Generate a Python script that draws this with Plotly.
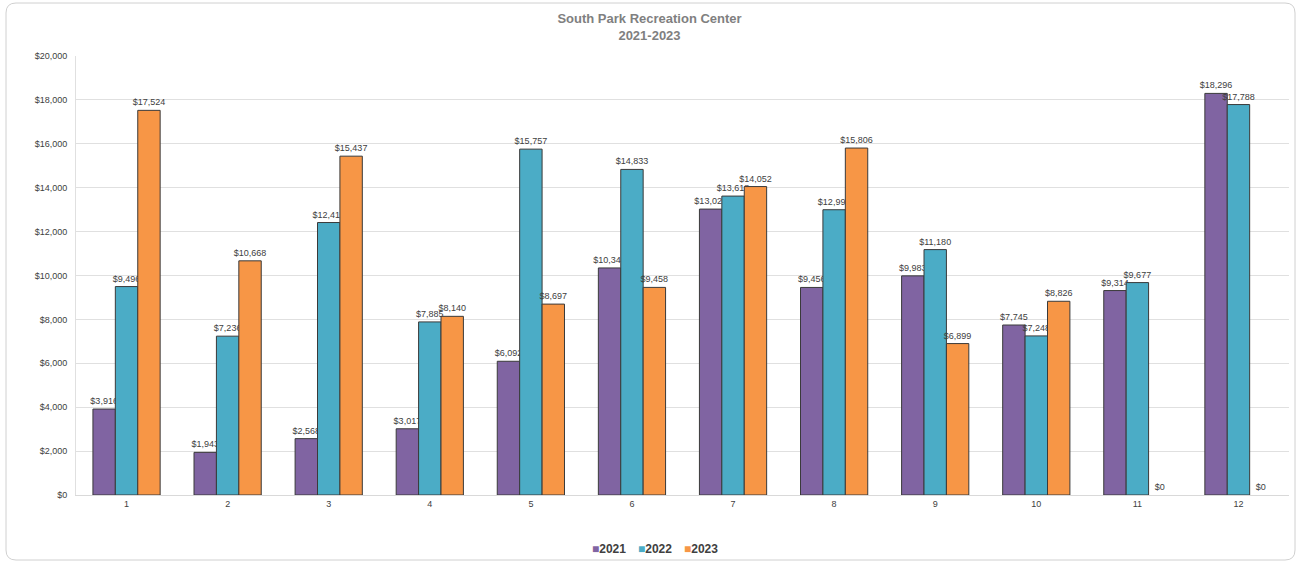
import plotly.graph_objects as go

months = ["1", "2", "3", "4", "5", "6", "7", "8", "9", "10", "11", "12"]
y2021 = [3916, 1943, 2568, 3017, 6092, 10344, 13026, 9456, 9983, 7745, 9314, 18296]
y2022 = [9496, 7236, 12413, 7885, 15757, 14833, 13618, 12997, 11180, 7248, 9677, 17788]
y2023 = [17524, 10668, 15437, 8140, 8697, 9458, 14052, 15806, 6899, 8826, 0, 0]
series = [("2021", y2021, "#8064A2"), ("2022", y2022, "#4BACC6"), ("2023", y2023, "#F79646")]

W, H = 1299, 563
L, R, T, B = 76, 10, 56, 68
pw, ph = W - L - R, H - T - B

fig = go.Figure()
for name, vals, col in series:
    fig.add_trace(go.Bar(
        x=months, y=vals, name=name,
        marker=dict(color=col, line=dict(color="#3a3a3a", width=[1 if v else 0 for v in vals])),
        text=[f"${v:,.0f}" for v in vals], textposition="outside",
        textfont=dict(size=9, color="#404040", family="Liberation Sans, Arial"),
        cliponaxis=False, constraintext="none",
    ))

def px(x):
    return (x - L) / pw

def py(y):
    return (H - B - y) / ph

# rounded card border
x0, x1, y0, y1, r = 6, 1295, 3, 560, 10
path = (f"M {px(x0+r)},{py(y0)} L {px(x1-r)},{py(y0)} Q {px(x1)},{py(y0)} {px(x1)},{py(y0+r)} "
        f"L {px(x1)},{py(y1-r)} Q {px(x1)},{py(y1)} {px(x1-r)},{py(y1)} "
        f"L {px(x0+r)},{py(y1)} Q {px(x0)},{py(y1)} {px(x0)},{py(y1-r)} "
        f"L {px(x0)},{py(y0+r)} Q {px(x0)},{py(y0)} {px(x0+r)},{py(y0)} Z")
fig.add_shape(type="path", path=path, xref="paper", yref="paper",
              line=dict(color="#d0d0d0", width=1), layer="below")

# compact legend like the reference
legend_x = [609, 655, 701]
for (name, vals, col), lx in zip(series, legend_x):
    fig.add_annotation(
        x=px(lx), y=py(549), xref="paper", yref="paper", xanchor="center", yanchor="middle",
        text=f'<span style="color:{col}">■</span><b>{name}</b>', showarrow=False,
        font=dict(size=12, color="#404040", family="Liberation Sans, Arial"))

fig.update_layout(
    width=W, height=H,
    margin=dict(l=L, r=R, t=T, b=B),
    paper_bgcolor="white", plot_bgcolor="white",
    font=dict(family="Liberation Sans, Arial", color="#404040", size=9),
    title=dict(text="<b>South Park Recreation Center<br>2021-2023</b>",
               x=0.5, xanchor="center", y=1 - 23 / H, yanchor="top",
               font=dict(size=13, color="#808080")),
    barmode="group", bargap=0.335, bargroupgap=0,
    showlegend=False,
    xaxis=dict(showgrid=False, showline=True, linecolor="#d9d9d9", ticks="",
               tickfont=dict(size=9, color="#404040")),
    yaxis=dict(range=[0, 20000], dtick=2000, tickprefix="$", tickformat=",",
               showgrid=True, gridcolor="#e0e0e0", gridwidth=1, zeroline=False,
               showline=True, linecolor="#e0e0e0", ticks="", ticklabelstandoff=6,
               tickfont=dict(size=9, color="#404040")),
)
fig.write_html("out.html", config={"displayModeBar": False},
               post_script="document.body.style.margin='0';document.body.style.overflow='hidden';")
